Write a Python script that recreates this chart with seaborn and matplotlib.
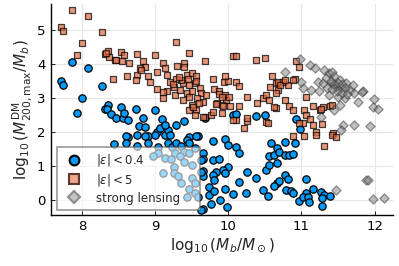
import seaborn as sns
import matplotlib.pyplot as plt
import pandas as pd
import numpy as np
from matplotlib.lines import Line2D

# |eps| < 0.4
blue_x = [7.87, 8.09, 7.71, 7.74, 8.27, 8.00, 7.93, 8.36, 8.31, 8.53, 8.74, 9.00, 8.34, 8.40, 8.47,
          8.56, 8.57, 8.63, 8.83, 8.78, 8.86, 8.91, 8.75, 8.63, 9.02, 9.07, 9.13, 9.18, 9.10, 9.29,
          9.40, 9.13, 9.46, 9.58, 9.20, 8.61, 8.86, 9.00, 9.56, 9.79, 9.95, 9.99, 10.11, 10.14, 9.65,
          9.66, 9.79, 9.88, 9.99, 9.93, 9.95, 9.83, 9.79, 9.66, 9.66, 9.81, 10.26, 10.14, 10.38, 9.95,
          9.74, 9.74, 9.81, 10.07, 10.24, 9.89, 9.77, 9.98, 9.66, 10.47, 10.54, 10.59, 10.56, 10.63, 10.66,
          10.52, 10.38, 10.50, 10.06, 10.11, 10.66, 10.78, 10.91, 10.69, 10.77, 10.83, 10.88, 10.56, 10.78, 10.81,
          11.06, 10.66, 10.69, 10.63, 10.79, 10.86, 10.89, 11.06, 11.16, 10.97, 11.02, 11.09, 11.10, 11.27, 11.31,
          11.28, 11.39, 11.28, 10.93, 10.98, 9.68, 9.63, 9.63, 9.63,
          8.44, 8.61, 8.75, 8.91, 9.04, 9.18, 9.23, 9.29, 9.36, 9.43, 9.47, 9.54, 9.40, 9.47, 9.27,
          9.34, 9.13, 9.22, 9.04, 9.40, 9.50, 9.11, 9.26, 9.26, 9.31, 9.36, 9.50, 9.54, 9.47, 9.54,
          9.59, 9.43, 8.97]
blue_y = [4.05, 3.87, 3.50, 3.38, 3.35, 2.99, 2.55, 2.79, 2.67, 2.73, 2.67, 2.65, 2.66, 2.52, 2.40,
          2.40, 2.55, 2.35, 2.40, 2.16, 2.14, 1.88, 1.91, 1.84, 2.01, 2.11, 1.91, 2.06, 2.37, 2.21,
          2.33, 2.21, 1.86, 1.88, 1.91, 1.88, 1.89, 1.90, 1.88, 1.74, 1.78, 1.62, 1.57, 1.39, 1.37,
          1.20, 1.16, 1.20, 0.98, 0.88, 0.80, 0.83, 0.74, 0.86, 0.69, 0.59, 0.83, 0.54, 0.64, 0.31,
          0.37, 0.15, 0.26, 0.18, 0.21, 0.00, -0.12, -0.20, -0.27, 0.29, 0.12, 1.67, 1.29, 1.32, 1.08,
          0.88, 2.47, 2.50, 2.50, 2.52, 1.52, 1.69, 1.67, 1.42, 1.32, 1.32, 1.35, 1.03, 0.74, 0.61,
          0.61, 0.49, 0.57, 0.41, 0.29, 0.27, 0.20, 0.21, 0.31, -0.02, 0.10, 0.08, -0.05, 0.24, 0.15,
          0.05, 0.12, -0.18, 2.37, 2.08, 2.40, 1.18, 0.82, -0.30,
          1.65, 1.67, 1.59, 1.67, 1.55, 1.67, 1.57, 1.67, 1.59, 1.76, 1.67, 1.52, 1.42, 1.37, 1.37,
          1.29, 1.23, 1.20, 1.37, 1.13, 1.03, 0.80, 0.98, 0.80, 0.69, 0.51, 0.64, 0.49, 0.31, 0.20,
          0.10, 0.10, 1.29]

# |eps| < 5
orange_x = [7.87, 8.09, 7.71, 7.74, 8.27, 8.00, 7.93, 8.31, 8.36, 8.37, 8.45, 8.53, 8.57, 8.55, 8.65,
            8.75, 8.84, 8.86, 8.79, 8.75, 8.62, 8.74, 8.43, 8.90, 8.93, 9.00, 9.11, 9.13, 9.02, 9.16,
            9.02, 9.11, 9.16, 9.29, 9.47, 9.30, 9.40, 9.68, 10.06, 10.11, 10.38, 10.50, 9.11, 9.20, 9.26,
            9.27, 9.34, 9.38, 9.43, 9.50, 9.56, 9.47, 9.54, 9.61, 9.63, 9.66, 9.43, 9.38, 9.50, 9.47,
            9.56, 9.54, 9.68, 9.77, 9.79, 9.81, 9.88, 9.94, 9.99, 10.11, 10.15, 9.95, 9.97, 9.84, 9.91,
            10.02, 10.14, 9.91, 10.11, 10.25, 10.22, 10.26, 10.39, 10.47, 10.52, 10.57, 10.65, 10.60, 10.52, 10.65,
            9.95, 10.68, 10.63, 10.06, 9.66, 9.79, 9.70, 9.87, 9.92, 10.01, 9.83, 9.93, 10.93, 10.97, 10.68,
            10.75, 10.82, 10.91, 10.56, 10.77, 10.83, 10.88, 11.06, 11.04, 11.16, 11.25, 11.30, 11.39, 11.06, 11.11,
            11.02, 11.20, 11.43, 10.54, 10.25, 10.88, 11.04, 11.20, 11.42, 11.47, 11.31, 10.70, 10.77, 10.88, 10.65,
            11.27, 11.41, 10.97, 11.16, 11.28, 8.33, 8.47, 8.81, 9.40, 9.36, 9.47, 9.52, 9.57, 9.60, 9.29,
            9.33, 9.25, 9.45, 9.50, 9.56]
orange_y = [5.59, 5.42, 5.08, 4.98, 4.93, 4.61, 4.26, 4.29, 4.39, 4.20, 4.12, 4.36, 4.26, 4.09, 4.02,
            4.28, 4.07, 3.90, 3.87, 3.68, 3.65, 3.53, 3.55, 3.63, 3.48, 4.26, 4.04, 3.87, 3.77, 3.68,
            3.26, 2.99, 3.20, 4.63, 4.33, 3.94, 4.02, 4.07, 4.24, 4.22, 4.10, 4.17, 3.16, 3.48, 3.33,
            3.09, 3.24, 3.43, 3.68, 3.73, 3.65, 3.38, 3.43, 3.29, 3.14, 2.89, 3.14, 2.94, 2.79, 2.65,
            2.65, 2.50, 2.45, 2.50, 3.55, 3.26, 3.19, 3.48, 3.51, 3.48, 3.35, 3.09, 2.94, 2.84, 2.79,
            2.76, 2.76, 2.57, 2.35, 2.33, 2.11, 3.02, 2.84, 2.99, 3.09, 3.33, 3.43, 3.63, 2.30, 2.70,
            3.65, 3.24, 2.74, 2.35, 2.43, 2.60, 3.09, 3.11, 3.04, 3.04, 2.82, 2.76, 4.09, 3.92, 3.48,
            3.48, 3.38, 3.55, 2.94, 2.94, 2.76, 2.65, 3.04, 2.65, 2.76, 2.65, 2.73, 2.76, 2.50, 2.37,
            2.26, 2.00, 1.97, 2.27, 2.40, 1.89, 1.89, 1.92, 1.92, 1.85, 1.58, 3.38, 3.53, 3.53, 3.14,
            2.67, 2.79, 2.26, 2.21, 2.23, 4.31, 4.10, 3.82, 3.92, 3.53, 3.04, 2.74, 3.00, 2.85, 3.55,
            3.60, 3.40, 3.55, 3.20, 3.50]

# strong lensing
gray_x = [10.77, 10.98, 11.11, 11.19, 11.31, 11.38, 11.45, 11.52, 11.61, 11.22, 11.29, 11.33, 11.41, 11.47, 11.54,
          11.66, 11.72, 11.84, 11.02, 11.13, 11.24, 11.38, 11.50, 11.59, 11.77, 11.52, 11.45, 11.99, 11.98, 12.04,
          11.27, 11.72, 11.57, 11.93, 11.54, 11.00, 11.42, 11.70, 11.83, 11.40, 11.45, 11.50, 11.55, 11.60, 11.48,
          11.35, 11.42, 11.56, 11.62, 11.47, 11.88, 11.91, 11.97, 12.13]
gray_y = [3.77, 4.14, 3.97, 3.87, 3.82, 3.73, 3.63, 3.53, 3.43, 3.48, 3.43, 3.58, 3.43, 3.33, 3.29,
          3.24, 3.14, 3.19, 3.29, 3.24, 3.19, 3.09, 3.04, 2.99, 2.89, 2.79, 2.65, 2.96, 2.74, 2.67,
          2.45, 2.21, 2.21, 2.16, 2.06, 3.48, 3.77, 3.38, 3.16, 3.50, 3.40, 3.45, 3.40, 3.30, 3.20,
          3.30, 3.25, 3.15, 3.10, 0.29, 0.59, 0.58, 0.03, 0.05]

sns.set_style("whitegrid")
plt.rcParams['font.family'] = ['DejaVu Sans']

fig = plt.figure(figsize=(3.99, 2.66), dpi=100)
ax = fig.add_axes([0.128, 0.192, 0.857, 0.793])

c_blue = "#009AFA"
c_orange = "#E36F47"

sns.scatterplot(x=blue_x, y=blue_y, ax=ax, marker="o", s=28, color=c_blue,
                edgecolor="black", linewidth=0.9, zorder=3)
sns.scatterplot(x=orange_x, y=orange_y, ax=ax, marker="s", s=24, color=c_orange,
                edgecolor="black", linewidth=0.9, alpha=0.72, zorder=4)
sns.scatterplot(x=gray_x, y=gray_y, ax=ax, marker="D", s=22, color="gray",
                edgecolor="#333333", linewidth=0.9, alpha=0.5, zorder=5)

ax.set_xlim(7.58, 12.25)
ax.set_ylim(-0.44, 5.76)
ax.set_xticks([8, 9, 10, 11, 12])
ax.set_yticks([0, 1, 2, 3, 4, 5])
ax.grid(True, color="#e6e6e6", linewidth=0.8)
for s in ["top", "right"]:
    ax.spines[s].set_visible(False)
for s in ["left", "bottom"]:
    ax.spines[s].set_color("black")
    ax.spines[s].set_linewidth(1.0)
ax.tick_params(direction="in", length=3, width=0.6, labelsize=9.5, pad=4,
               left=True, bottom=True, colors="black")

ax.set_xlabel(r"$\log_{10}(M_b/M_\odot)$", fontsize=11, labelpad=2)
ax.set_ylabel(r"$\log_{10}(M^{\rm DM}_{200,\max}/M_b)$", fontsize=11, labelpad=2)

handles = [
    Line2D([], [], linestyle="none", marker="o", markersize=7, markerfacecolor=c_blue,
           markeredgecolor="black", markeredgewidth=1.5),
    Line2D([], [], linestyle="none", marker="s", markersize=6.5, markerfacecolor="#EEA58C",
           markeredgecolor="#5a3a30", markeredgewidth=1.5),
    Line2D([], [], linestyle="none", marker="D", markersize=6, markerfacecolor="#c4c4c4",
           markeredgecolor="#8c8c8c", markeredgewidth=1.5),
]
labels = [r"$|\varepsilon| < 0.4$", r"$|\varepsilon| < 5$", "strong lensing"]
leg = ax.legend(handles, labels, loc="lower left", bbox_to_anchor=(0.018, 0.024, 0.418, 0.346),
                mode="expand", fontsize=8.5, frameon=True, fancybox=False, framealpha=0.6,
                borderaxespad=0, handletextpad=0.8, labelspacing=0.3, borderpad=0.45)
leg.get_frame().set_edgecolor("#555555")
leg.get_frame().set_linewidth(1.2)
leg.set_zorder(10)

fig.savefig("out.png", dpi=100)
